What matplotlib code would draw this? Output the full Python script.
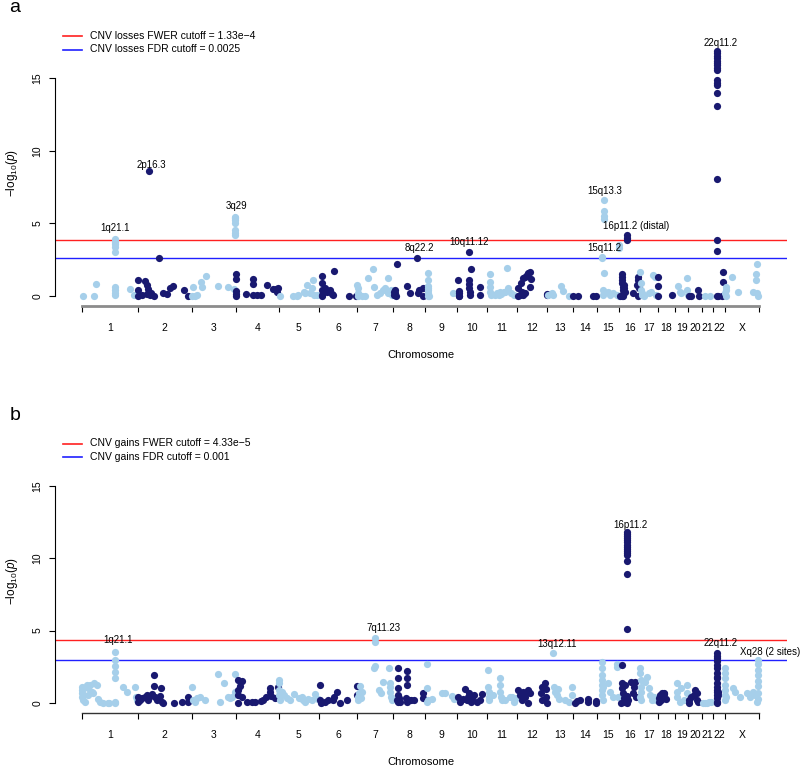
import numpy as np
import matplotlib
matplotlib.use('Agg')
import matplotlib.pyplot as plt
from matplotlib.lines import Line2D

plt.rcParams['font.family'] = ['Liberation Sans', 'DejaVu Sans']
plt.rcParams['mathtext.fontset'] = 'custom'
plt.rcParams['mathtext.rm'] = 'Liberation Sans'
plt.rcParams['mathtext.it'] = 'Liberation Sans:italic'

# chromosomes and their lengths (Mb)
chrom_names = ['1', '2', '3', '4', '5', '6', '7', '8', '9', '10', '11', '12',
               '13', '14', '15', '16', '17', '18', '19', '20', '21', '22', 'X']
chrom_len = [249.3, 243.2, 198.0, 191.2, 180.9, 171.1, 159.1, 146.4, 141.2, 135.5,
             135.0, 133.9, 115.2, 107.3, 102.5, 90.4, 81.2, 78.1, 59.1, 63.0,
             48.1, 51.3, 155.3]

# CNV losses: (position in Mb, -log10 p) per chromosome
loss_points = [
    [(3, 0.0), (54, 0.0), (63, 0.8), (148, 0.05), (148, 0.2), (148, 0.4), (148, 0.65), (148, 3.0),
     (148, 3.4), (148, 3.55), (148, 3.75), (148, 3.95), (215, 0.45), (233, 0.05)],
    [(3, 1.1), (3, 0.42), (3, 0.0), (20, 0.05), (33, 1.03), (43, 0.76), (48, 0.48), (41, 0.12), (55, 0.07),
     (60, 0.2), (75, 0.0), (51, 8.6), (97, 2.6), (112, 0.18), (133, 0.15), (146, 0.53), (158, 0.69),
     (210, 0.41), (228, 0.0)],
    [(2, 0.0), (7, 0.6), (14, 0.02), (25, 0.05), (40, 0.94), (44, 0.65), (62, 1.38), (117, 0.71),
     (161, 0.6), (189, 0.48), (195, 5.45), (195, 5.35), (195, 5.2), (195, 5.05), (195, 4.55),
     (195, 4.35), (195, 4.2)],
    [(2, 1.49), (2, 1.17), (2, 0.37), (2, 0.14), (2, 0.0), (43, 0.12), (75, 1.15), (75, 0.8), (75, 0.05),
     (95, 0.05), (111, 0.1), (140, 0.76), (167, 0.48), (178, 0.5), (186, 0.25), (188, 0.55)],
    [(8, 0.0), (66, 0.0), (81, 0.02), (86, 0.1), (115, 0.25), (119, 0.18), (127, 0.76), (140, 0.2),
     (149, 0.53), (155, 1.1), (157, 0.07), (170, 0.05)],
    [(12, 1.4), (12, 0.87), (12, 0.41), (12, 0.07), (12, 0.0), (27, 0.53), (34, 0.3), (50, 0.41),
     (57, 0.14), (64, 0.07), (69, 1.75), (136, 0.0), (166, 0.0)],
    [(0, 0.76), (3, 0.53), (5, 0.18), (2, 0.0), (21, 0.0), (35, 0.0), (50, 1.22), (70, 1.83), (76, 0.64),
     (88, 0.07), (102, 0.18), (115, 0.41), (125, 0.53), (140, 1.26), (140, 0.18), (150, 0.41), (157, 0.07)],
    [(8, 0.07), (8, 0.3), (10, 0.2), (12, 0.41), (14, 0.0), (18, 2.18), (66, 0.71), (78, 0.18),
     (108, 2.64), (115, 0.18), (119, 0.41), (135, 0.53), (136, 0.0)],
    [(11, 1.56), (11, 1.1), (12, 0.71), (12, 0.41), (12, 0.18), (12, 0.0), (14, 0.53), (15, 0.02),
     (126, 0.18)],
    [(7, 1.1), (8, 0.18), (10, 0.0), (12, 0.34), (9, 0.0), (55, 3.05), (63, 1.83), (55, 1.1), (55, 0.8),
     (57, 0.53), (59, 0.3), (61, 0.07), (104, 0.64), (104, 0.07)],
    [(14, 1.5), (14, 0.98), (15, 0.64), (14, 0.3), (16, 0.07), (36, 0.07), (45, 0.18), (52, 0.07),
     (57, 0.3), (65, 0.15), (75, 0.25), (82, 0.3), (91, 1.9), (95, 0.53), (108, 0.18), (120, 0.07)],
    [(6, 0.53), (6, 0.0), (13, 0.07), (18, 0.87), (20, 0.3), (28, 1.22), (36, 1.33), (43, 1.45),
     (51, 1.56), (58, 1.63), (58, 0.64), (63, 1.2), (28, 0.05), (36, 0.2), (132, 0.05), (132, 0.12)],
    [(5, 0.1), (22, 0.18), (25, 0.05), (63, 0.69), (74, 0.37), (100, 0.0)],
    [(3, 0.0), (26, 0.0), (93, 0.02), (103, 0.0)],
    [(24, 2.7), (25, 2.6), (34, 6.6), (34, 5.85), (34, 5.5), (34, 5.3), (35, 1.6), (30, 0.41), (28, 0.07),
     (53, 0.3), (60, 0.07), (75, 0.18), (91, 0.07), (100, 0.0), (102, 3.5), (102, 3.3)],
    [(3, 0.0), (10, 0.9), (11, 1.1), (12, 1.3), (13, 1.5), (14, 0.65), (15, 0.4), (16, 0.15), (17, 0.0),
     (12, 0.0), (20, 0.55), (22, 0.75), (25, 0.3), (33, 4.2), (33, 3.97), (33, 3.85), (62, 0.18),
     (78, 0.76), (81, 1.1), (84, 1.33), (88, 0.53), (81, 0.0)],
    [(2, 1.67), (7, 0.87), (8, 0.41), (9, 0.18), (10, 0.07), (20, 0.02), (40, 0.18), (53, 0.3),
     (62, 1.45), (69, 1.33), (72, 0.07)],
    [(3, 1.28), (3, 0.71), (3, 0.0), (63, 0.07)],
    [(15, 0.69), (20, 0.3), (25, 0.18), (52, 1.22), (55, 0.41), (57, 0.07)],
    [(2, 0.0), (12, 0.0), (45, 0.41), (50, 0.0)],
    [(12, 0.0), (32, 0.0)],
    [(17, 0.0), (21, 0.0), (19, 16.85), (19, 16.7), (19, 16.5), (19, 16.35), (19, 16.2), (19, 16.05),
     (19, 15.9), (19, 15.7), (19, 15.55), (19, 14.85), (19, 14.65), (19, 14.5), (19, 14.0), (19, 13.1),
     (19, 8.05), (19, 3.85), (19, 3.1), (43, 1.67), (43, 0.98), (42, 0.0)],
    [(5, 0.64), (5, 0.41), (4, 0.18), (8, 0.0), (33, 1.33), (62, 0.3), (129, 0.3), (144, 2.18),
     (143, 1.49), (143, 1.1), (147, 0.18), (150, 0.0)],
]

# CNV gains: (position in Mb, -log10 p) per chromosome
gain_points = [
    [(0, 1.13), (0, 0.9), (0, 0.67), (0, 0.44), (6, 0.21), (13, 0.09), (21, 1.24), (28, 1.01), (28, 0.55),
     (36, 1.24), (43, 0.78), (51, 0.67), (55, 1.36), (66, 1.24), (70, 0.28), (81, 0.09), (95, 0.02),
     (115, 0.02), (122, 0.02), (148, 3.5), (148, 2.97), (148, 2.58), (148, 2.17), (148, 1.75),
     (148, 0.09), (150, 0.0), (185, 1.13), (200, 0.78), (238, 1.13), (240, 0.44), (245, 0.21)],
    [(3, 0.44), (3, 0.09), (11, 0.21), (18, 0.32), (33, 0.44), (41, 0.55), (48, 0.21), (55, 0.51),
     (63, 0.6), (75, 1.94), (75, 1.17), (78, 0.44), (85, 0.21), (93, 0.32), (100, 0.51), (105, 1.01),
     (108, 0.09), (115, 0.0), (164, 0.0), (197, 0.09), (227, 0.44), (228, 0.09)],
    [(2, 1.13), (3, 0.21), (12, 0.09), (24, 0.32), (35, 0.44), (58, 0.21), (119, 1.98), (126, 0.09),
     (144, 1.36), (162, 0.44), (170, 0.32), (178, 0.44), (193, 1.98), (193, 0.78)],
    [(7, 1.59), (7, 0.9), (8, 0.55), (7, 0.0), (25, 1.52), (20, 1.18), (25, 0.44), (48, 0.09), (70, 0.09),
     (85, 0.09), (112, 0.14), (123, 0.21), (133, 0.44), (152, 1.06), (152, 0.78), (155, 0.51),
     (176, 0.32), (187, 1.13)],
    [(2, 1.59), (3, 1.36), (3, 0.9), (3, 0.55), (6, 0.21), (17, 0.78), (25, 0.55), (36, 0.32), (50, 0.2),
     (70, 0.6), (90, 0.35), (103, 0.44), (110, 0.21), (117, 0.09), (130, 0.25), (150, 0.2), (165, 0.6),
     (175, 0.3)],
    [(5, 1.24), (5, 0.21), (8, 0.0), (27, 0.09), (42, 0.21), (64, 0.21), (69, 0.44), (79, 0.78), (94, 0.0),
     (124, 0.21), (169, 1.2), (169, 0.55)],
    [(2, 0.21), (4, 0.44), (9, 0.67), (12, 1.17), (14, 0.44), (18, 0.32), (24, 0.78), (80, 4.47),
     (80, 4.2), (76, 2.44), (78, 2.58), (100, 0.9), (105, 0.67), (117, 1.47), (145, 2.4), (147, 1.36),
     (147, 1.13), (148, 0.78), (150, 0.44), (155, 0.21)],
    [(23, 2.44), (22, 1.75), (22, 1.01), (22, 0.55), (19, 0.21), (23, 0.09), (27, 0.32), (34, 0.09),
     (63, 2.2), (63, 1.75), (63, 1.24), (62, 0.32), (66, 0.09), (73, 0.21), (82, 0.21), (97, 0.21),
     (137, 0.67), (138, 0.32)],
    [(7, 2.67), (7, 1.01), (9, 0.09), (12, 0.21), (30, 0.3), (74, 0.67), (89, 0.67), (119, 0.51),
     (128, 0.3)],
    [(7, 0.44), (15, 0.09), (30, 0.28), (37, 0.97), (45, 0.21), (52, 0.44), (55, 0.67), (62, 0.09),
     (70, 0.32), (77, 0.55), (92, 0.09), (112, 0.6), (104, 0.21)],
    [(6, 2.28), (6, 1.13), (7, 0.78), (8, 0.44), (10, 0.21), (25, 0.55), (59, 1.7), (59, 1.24), (59, 0.78),
     (62, 0.44), (67, 0.21), (82, 0.21), (104, 0.44), (114, 0.44), (120, 0.09), (128, 0.32)],
    [(6, 0.9), (13, 0.55), (21, 0.21), (28, 0.78), (36, 0.44), (43, 0.78), (51, 0.9), (58, 0.67),
     (51, 0.0), (111, 1.13), (106, 0.67), (110, 0.21), (125, 1.36), (130, 1.0), (131, 0.44), (132, 0.0)],
    [(26, 3.43), (33, 1.13), (36, 0.78), (43, 0.55), (51, 1.0), (55, 0.3), (80, 0.2), (100, 0.1),
     (114, 1.13), (114, 0.55)],
    [(12, 0.0), (18, 0.14), (33, 0.21), (68, 0.28), (70, 0.09), (103, 0.14), (103, 0.0)],
    [(23, 2.81), (23, 2.4), (24, 1.94), (24, 1.59), (24, 1.24), (26, 0.9), (26, 0.55), (28, 0.21),
     (30, 1.13), (53, 1.36), (60, 0.78), (75, 0.44), (90, 2.67), (92, 2.5), (95, 0.44)],
    [(13, 2.63), (10, 1.36), (13, 1.01), (16, 0.67), (19, 0.32), (21, 0.09), (8, 0.0), (25, 1.24),
     (33, 11.85), (33, 11.7), (33, 11.55), (33, 11.4), (33, 11.25), (33, 11.1), (33, 10.95), (33, 10.8),
     (33, 10.65), (33, 10.5), (33, 10.35), (33, 10.2), (33, 9.8), (33, 8.9), (33, 5.1), (33, 0.5),
     (33, 0.0), (40, 0.2), (52, 1.43), (59, 0.67), (63, 1.13), (70, 1.47), (76, 0.44)],
    [(2, 2.4), (2, 2.05), (4, 1.59), (5, 1.13), (6, 0.78), (2, 0.44), (8, 0.21), (25, 1.47), (32, 1.82),
     (40, 1.01), (47, 0.55), (55, 0.21), (65, 0.4), (75, 0.2)],
    [(4, 0.32), (8, 0.55), (21, 0.67), (26, 0.71), (29, 0.6), (4, 0.09), (35, 0.3), (15, 0.2)],
    [(7, 1.36), (7, 0.78), (7, 0.44), (27, 1.01), (52, 1.24), (52, 0.67), (40, 0.2), (20, 0.1)],
    [(2, 0.0), (10, 0.44), (26, 0.55), (31, 0.9), (38, 0.67), (38, 0.21), (5, 0.2), (45, 0.1)],
    [(5, 0.0), (12, 0.0), (20, 0.0), (30, 0.09), (38, 0.05)],
    [(19, 3.43), (19, 3.27), (19, 3.09), (19, 2.9), (19, 2.63), (19, 2.4), (19, 2.05), (19, 1.82),
     (19, 1.7), (19, 1.36), (19, 1.13), (19, 0.9), (19, 0.78), (19, 0.55), (19, 0.32), (19, 0.09),
     (19, 0.0), (21, 0.78), (23, 0.55)],
    [(1, 2.4), (1, 2.05), (2, 1.71), (1, 1.24), (3, 0.9), (1, 0.55), (3, 0.21), (5, 0.44), (40, 1.01),
     (47, 0.78), (70, 0.44), (100, 0.67), (114, 0.44), (129, 0.78), (137, 0.55), (151, 2.97),
     (151, 2.67), (151, 2.28), (151, 1.94), (151, 1.5), (151, 1.2), (150, 0.7), (148, 0.3), (145, 0.1)],
]

# region labels: text, chromosome index, Mb position, y
loss_labels = ['1q21.1', '2p16.3', '3q29', '8q22.2', '10q11.12', '15q13.3',
               '16p11.2 (distal)', '15q11.2', '22q11.2']
loss_label_chr = [0, 1, 2, 7, 9, 14, 15, 14, 21]
loss_label_mb = [148, 63, 200, 118, 55, 38, 74, 34, 34]
loss_label_y = [4.67, 9.0, 6.2, 3.28, 3.7, 7.25, 4.82, 3.28, 17.43]

gain_labels = ['1q21.1', '7q11.23', '13q12.11', '16p11.2', '22q11.2', 'Xq28 (2 sites)']
gain_label_chr = [0, 6, 12, 15, 21, 22]
gain_label_mb = [162, 117, 44, 48, 34, 204]
gain_label_y = [4.35, 5.16, 4.06, 12.3, 4.17, 3.55]

loss_fwer, loss_fdr = -np.log10(1.33e-4), -np.log10(0.0025)
gain_fwer, gain_fdr = -np.log10(4.33e-5), -np.log10(0.001)

light, dark = '#a6cfea', '#191970'
offsets = np.concatenate([[0], np.cumsum(chrom_len)[:-1]])
total = float(np.sum(chrom_len))
W, H = 800, 766


def draw_panel(ax, points, labels, lab_chr, lab_mb, lab_y, fwer, fdr, axis_col, axis_lw):
    ax.set_xlim(-121, 3161)
    ax.set_ylim(-0.7, 17.6)
    ax.axhline(fwer, color='#ff2020', lw=1, zorder=1)
    ax.axhline(fdr, color='#2020ff', lw=1, zorder=1)
    for i, pts in enumerate(points):
        mb = np.array([p[0] for p in pts])
        lp = np.array([p[1] for p in pts])
        ax.scatter(offsets[i] + mb, lp, s=27, color=light if i % 2 == 0 else dark,
                   linewidths=0, zorder=3, clip_on=False)
    for t, c, m, y in zip(labels, lab_chr, lab_mb, lab_y):
        ax.text(offsets[c] + m, y, t, ha='center', va='center', fontsize=7, zorder=4, clip_on=False)

    for s in ['top', 'right']:
        ax.spines[s].set_visible(False)
    ax.spines['left'].set_bounds(0, 15)
    ax.spines['left'].set_linewidth(0.8)
    ax.spines['bottom'].set_bounds(0, total)
    ax.spines['bottom'].set_color(axis_col)
    ax.spines['bottom'].set_linewidth(axis_lw)
    ax.set_yticks([0, 5, 10, 15])
    ax.set_yticklabels(['0', '5', '10', '15'], rotation=90, va='center')
    ax.tick_params(axis='y', length=4, width=0.8, labelsize=7.5, pad=5)
    ax.set_xticks(np.concatenate([offsets, [total]]))
    ax.set_xticklabels([])
    ax.tick_params(axis='x', which='major', length=4, width=0.8)
    ax.set_xticks(offsets + np.array(chrom_len) / 2, minor=True)
    ax.set_xticklabels(chrom_names, minor=True)
    ax.tick_params(axis='x', which='minor', length=0, labelsize=7.5, pad=12)
    ax.text(0.5, -0.184, 'Chromosome', transform=ax.transAxes, ha='center', va='center', fontsize=8)
    ax.text(-0.059, 0.5, r'$-\mathrm{log}_{10}(\mathit{p})$', transform=ax.transAxes,
            ha='center', va='center', rotation=90, fontsize=8.5)


fig = plt.figure(figsize=(W / 100, H / 100), dpi=100)
ax_a = fig.add_axes([55 / W, 1 - 306.2 / H, 732 / W, 265.9 / H])
ax_b = fig.add_axes([55 / W, 1 - 713.1 / H, 732 / W, 264.8 / H])

draw_panel(ax_a, loss_points, loss_labels, loss_label_chr, loss_label_mb, loss_label_y,
           loss_fwer, loss_fdr, '#8c8c8c', 2.0)
draw_panel(ax_b, gain_points, gain_labels, gain_label_chr, gain_label_mb, gain_label_y,
           gain_fwer, gain_fdr, '#333333', 1.0)

# legends and panel letters
legend_rows = [
    (36, 'red', 'CNV losses FWER cutoff = 1.33e\u22124'),
    (49.5, 'blue', 'CNV losses FDR cutoff = 0.0025'),
    (443.5, 'red', 'CNV gains FWER cutoff = 4.33e\u22125'),
    (456.5, 'blue', 'CNV gains FDR cutoff = 0.001'),
]
for y, col, txt in legend_rows:
    c = '#ff2020' if col == 'red' else '#2020ff'
    fig.add_artist(Line2D([63 / W, 82 / W], [1 - y / H, 1 - y / H], color=c, lw=1.2,
                          transform=fig.transFigure))
    fig.text(90.5 / W, 1 - y / H, txt, ha='left', va='center', fontsize=7.5)

fig.text(15 / W, 1 - 8 / H, 'a', ha='center', va='center', fontsize=14)
fig.text(15 / W, 1 - 415 / H, 'b', ha='center', va='center', fontsize=14)

fig.savefig('out.png', dpi=100)
